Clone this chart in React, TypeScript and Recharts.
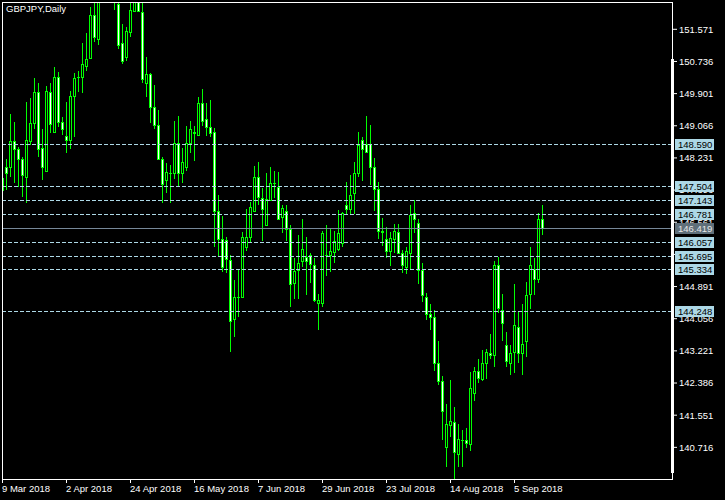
import React from "react";
import { Bar, ComposedChart, ReferenceLine, XAxis, YAxis } from "recharts";

// GBPJPY daily candles, 9 Mar 2018 .. 14 Sep 2018
const opens = [
  147.40, 147.99, 147.99, 148.67, 148.46, 148.20, 147.73, 148.67, 149.14, 149.94,
  148.49, 147.89, 149.94, 148.90, 150.33, 149.16, 148.80, 148.69, 149.84, 150.32,
  150.33, 150.62, 150.82, 151.94, 151.32, 152.40, 152.85, 152.60, 152.50, 152.23,
  151.21, 150.85, 151.50, 152.04, 152.45, 152.02, 150.17, 150.41, 149.55, 149.08,
  148.20, 147.66, 147.84, 147.84, 148.62, 147.84, 147.99, 148.62, 148.88, 148.82,
  149.66, 149.24, 149.03, 148.90, 146.85, 146.12, 146.10, 145.58, 144.05, 144.61,
  144.62, 145.92, 146.18, 146.85, 147.73, 147.19, 146.49, 147.14, 147.58, 147.47,
  146.70, 146.85, 146.38, 144.98, 145.32, 145.55, 145.66, 145.71, 145.45, 144.46,
  144.46, 145.70, 145.71, 145.79, 145.86, 146.02, 147.01, 146.90, 147.32, 147.84,
  148.69, 148.59, 148.59, 147.99, 147.42, 146.33, 146.12, 145.81, 146.12, 146.31,
  145.76, 145.40, 145.76, 146.80, 146.54, 145.32, 144.62, 144.18, 144.10, 142.90,
  142.44, 140.72, 141.29, 141.37, 140.54, 140.91, 140.90, 140.80, 142.12, 142.70,
  142.49, 142.90, 143.16, 143.11, 145.45, 144.28, 143.37, 142.90, 143.19, 143.84,
  143.16, 143.47, 144.70, 145.34, 145.09, 146.64,
];
const highs = [
  147.92, 148.20, 149.37, 149.16, 148.51, 148.25, 149.68, 149.78, 150.30, 150.17,
  148.98, 150.10, 150.17, 150.59, 150.46, 149.29, 149.68, 149.97, 150.43, 150.49,
  151.21, 151.47, 152.15, 152.40, 152.55, 153.05, 153.20, 152.95, 152.80, 152.45,
  151.71, 151.63, 152.40, 152.60, 152.70, 152.40, 150.85, 150.43, 150.12, 149.47,
  148.25, 148.10, 148.05, 149.19, 149.32, 148.49, 149.06, 149.19, 149.06, 149.81,
  150.02, 149.66, 149.73, 149.01, 147.27, 146.72, 146.18, 145.71, 145.06, 145.34,
  146.31, 146.90, 147.09, 148.02, 148.12, 147.45, 147.84, 147.99, 147.89, 147.86,
  147.01, 147.01, 146.49, 145.63, 146.23, 146.64, 146.18, 145.76, 145.63, 144.70,
  146.33, 146.49, 146.38, 146.33, 146.88, 146.82, 147.60, 147.79, 148.12, 148.90,
  148.77, 149.32, 149.08, 148.23, 147.60, 146.67, 146.43, 146.31, 146.51, 146.51,
  145.84, 145.92, 147.01, 147.14, 146.64, 145.51, 144.72, 144.44, 144.28, 143.47,
  142.57, 141.84, 142.46, 141.76, 141.32, 141.16, 141.21, 142.67, 142.80, 143.01,
  143.24, 143.27, 143.66, 145.55, 145.66, 144.70, 143.71, 143.37, 144.95, 144.25,
  144.44, 145.01, 145.92, 145.63, 146.80, 147.01,
];
const lows = [
  146.62, 147.40, 147.73, 147.58, 147.47, 147.21, 147.06, 148.57, 148.98, 148.25,
  147.66, 147.86, 148.88, 148.88, 149.03, 148.82, 148.36, 148.46, 148.77, 149.94,
  149.92, 150.49, 150.80, 151.24, 151.16, 152.32, 152.45, 152.35, 152.07, 151.06,
  150.67, 150.75, 151.37, 152.02, 152.02, 150.17, 149.81, 149.14, 148.98, 148.17,
  147.06, 147.32, 147.06, 147.68, 147.47, 147.58, 147.89, 148.36, 148.15, 148.80,
  149.06, 148.80, 148.77, 145.92, 145.66, 145.27, 145.24, 143.19, 143.58, 144.10,
  144.59, 145.81, 146.05, 146.85, 147.01, 146.07, 146.49, 147.11, 147.19, 146.62,
  146.28, 146.07, 144.36, 144.57, 144.57, 145.40, 144.67, 144.98, 144.49, 143.76,
  144.36, 145.16, 145.27, 145.51, 145.81, 145.92, 146.75, 146.75, 146.77, 147.73,
  147.63, 148.36, 147.53, 146.85, 146.12, 145.94, 145.63, 145.42, 145.76, 145.73,
  145.24, 145.21, 145.32, 146.28, 144.95, 144.49, 144.02, 143.76, 142.70, 142.33,
  140.90, 140.20, 140.98, 139.85, 140.20, 140.20, 140.70, 140.62, 141.92, 142.38,
  142.44, 142.49, 143.01, 142.80, 144.20, 143.47, 142.80, 142.59, 142.64, 142.90,
  142.59, 143.06, 144.31, 144.67, 144.98, 146.23,
];
const closes = [
  147.71, 147.84, 148.67, 148.46, 148.20, 147.79, 148.69, 149.14, 149.94, 148.46,
  147.99, 149.97, 149.11, 150.33, 149.16, 148.98, 148.69, 149.84, 150.30, 150.34,
  150.67, 150.80, 151.94, 151.37, 152.35, 152.85, 152.60, 152.50, 152.40, 151.16,
  150.75, 151.53, 152.07, 152.45, 152.04, 150.28, 150.41, 149.55, 149.08, 148.20,
  147.55, 147.86, 147.85, 148.62, 147.84, 148.12, 148.62, 148.98, 148.90, 149.66,
  149.19, 149.03, 148.88, 146.85, 146.12, 145.40, 145.60, 144.00, 144.62, 144.63,
  146.18, 146.18, 146.95, 147.73, 147.21, 146.90, 147.16, 147.58, 147.59, 146.64,
  146.93, 146.38, 144.95, 145.29, 145.50, 145.86, 145.55, 145.47, 144.54, 144.54,
  146.28, 145.72, 145.81, 146.07, 146.28, 146.80, 146.90, 147.27, 147.84, 148.57,
  148.46, 148.38, 147.99, 147.42, 146.33, 146.32, 145.81, 146.15, 146.33, 145.76,
  145.45, 145.81, 146.75, 146.64, 145.32, 144.67, 144.18, 144.10, 142.90, 142.44,
  141.66, 141.32, 141.40, 140.59, 140.93, 140.90, 140.83, 142.25, 142.70, 142.51,
  142.90, 143.19, 143.11, 145.45, 144.33, 143.94, 142.96, 143.16, 143.89, 143.16,
  143.40, 144.67, 145.45, 145.09, 146.64, 146.419,
];

const dateLabels = ["9 Mar 2018", "2 Apr 2018", "24 Apr 2018", "16 May 2018", "7 Jun 2018", "29 Jun 2018", "23 Jul 2018", "14 Aug 2018", "5 Sep 2018"];
const dateTicks = [0, 16, 32, 48, 64, 80, 96, 112, 128];
const priceTicks = [151.571, 150.736, 149.901, 149.066, 148.231, 147.396, 146.561, 145.726, 144.891, 144.056, 143.221, 142.386, 141.551, 140.716];
const levels = [148.59, 147.504, 147.143, 146.781, 146.057, 145.695, 145.334, 144.248];
const bid = 146.419;

const data = opens.map((open, i) => ({
  i,
  open,
  high: highs[i],
  low: lows[i],
  close: closes[i],
  range: [lows[i], highs[i]],
}));

const FONT = "Liberation Sans, Arial, sans-serif";
const LIME = "#00ff00";
const LEVEL = "#ADD8E6";
const DOMAIN: [number, number] = [139.894, 152.28];

const Candle = (props: any) => {
  const { x, y, width, height, payload } = props;
  if (!payload) return null;
  const { open, close, high, low } = payload;
  const top0 = Math.min(y, y + height);
  const h = Math.abs(height);
  const cx = Math.floor(x + width / 2) + 0.5;
  const py = (v: number) => top0 + ((high - v) / (high - low)) * h;
  const bTop = Math.round(py(Math.max(open, close)));
  const bBot = Math.round(py(Math.min(open, close)));
  const bull = close >= open;
  return (
    <g>
      <line x1={cx} x2={cx} y1={Math.round(top0)} y2={Math.round(top0 + h)} stroke={LIME} strokeWidth={1} />
      {bBot - bTop < 1 ? (
        <line x1={cx - 1.5} x2={cx + 1.5} y1={bTop + 0.5} y2={bTop + 0.5} stroke={LIME} strokeWidth={1} />
      ) : (
        <rect x={cx - 1} y={bTop + 0.5} width={2} height={bBot - bTop} fill={bull ? "#000" : "#fff"} stroke={LIME} strokeWidth={1} />
      )}
    </g>
  );
};

const HLine = (p: any) => {
  const yy = Math.round(p.y1) + 0.5;
  return <line x1={p.x1} x2={p.x2} y1={yy} y2={yy} stroke={p.stroke} strokeDasharray={p.strokeDasharray} strokeWidth={1} />;
};

// price boxes on the right scale, drawn by a second (1px wide) axis so they sit on top of the normal ticks
const LevelBox = (props: any) => {
  const { y, payload } = props;
  if (!payload || !Number.isFinite(y)) return null;
  const v = payload.value;
  const isBid = v === bid;
  const yy = Math.round(y);
  return (
    <g>
      <rect x={675} y={yy - 5} width={39} height={11} fill={isBid ? "#5F6F7A" : LEVEL} />
      <text x={678} y={yy + 4} fill={isBid ? "#E8E8E8" : "#000"} fontSize={9.5} fontFamily={FONT}>
        {v.toFixed(3)}
      </text>
    </g>
  );
};

const DateTick = (props: any) => {
  const { x, y, payload } = props;
  const k = dateTicks.indexOf(payload.value);
  return (
    <text x={x - 0.5} y={y + 7} fill="#fff" fontSize={9.5} fontFamily={FONT} textAnchor="start">
      {dateLabels[k]}
    </text>
  );
};

export default function App() {
  return (
    <div style={{ position: "absolute", left: 0, top: 0, width: 725, height: 500, background: "#000" }}>
      <ComposedChart width={725} height={500} data={data} margin={{ top: 2, right: 0, bottom: 0, left: 2 }}>
        <XAxis
          type="number"
          dataKey="i"
          domain={[-0.125, 167.375]}
          allowDataOverflow
          ticks={dateTicks}
          interval={0}
          height={21}
          axisLine={false}
          tickSize={4}
          tickLine={{ stroke: "#fff" }}
          tick={<DateTick />}
        />
        <YAxis
          yAxisId="price"
          orientation="right"
          type="number"
          domain={DOMAIN}
          allowDataOverflow
          ticks={priceTicks}
          interval={0}
          width={52}
          axisLine={false}
          tickSize={4}
          tickMargin={2}
          tickLine={{ stroke: "#fff" }}
          tick={{ fill: "#fff", fontSize: 9.5, fontFamily: FONT }}
          tickFormatter={(v: number) => v.toFixed(3)}
        />
        <YAxis
          yAxisId="levels"
          orientation="right"
          type="number"
          domain={DOMAIN}
          allowDataOverflow
          ticks={[...levels, bid]}
          interval={0}
          width={1}
          axisLine={false}
          tickLine={false}
          tick={<LevelBox />}
        />
        <Bar yAxisId="price" dataKey="range" shape={<Candle />} isAnimationActive={false} />
        {levels.map((v) => (
          <ReferenceLine key={v} yAxisId="levels" y={v} stroke={LEVEL} strokeDasharray="4 2" shape={HLine} />
        ))}
        <ReferenceLine yAxisId="levels" y={bid} stroke="#778899" shape={HLine} />
      </ComposedChart>
      <div
        style={{
          position: "absolute",
          left: 2,
          top: 2,
          width: 671,
          height: 478,
          boxSizing: "border-box",
          border: "1px solid #fff",
          pointerEvents: "none",
        }}
      />
      <div style={{ position: "absolute", left: 671, top: 59, width: 3, height: 414, background: "#fff", zIndex: 2 }} />
      <div style={{ position: "absolute", left: 6, top: 3, color: "#fff", fontSize: 9.5, fontFamily: FONT, lineHeight: "12px" }}>
        GBPJPY,Daily
      </div>
    </div>
  );
}
